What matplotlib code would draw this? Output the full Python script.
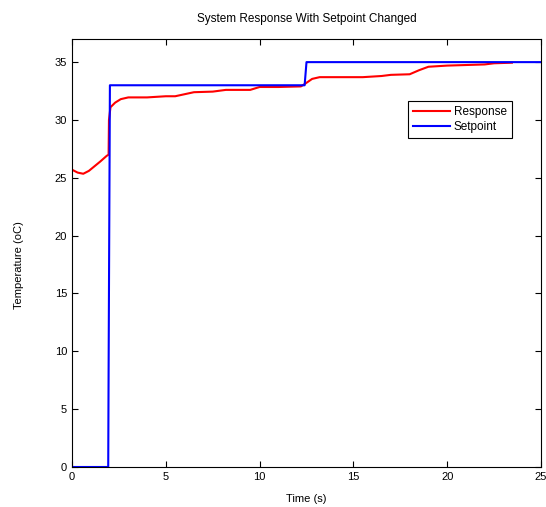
import numpy as np
import matplotlib.pyplot as plt

plt.rcParams['font.family'] = ['Liberation Sans', 'DejaVu Sans']

# response (measured temperature)
resp_t = [0, 0.3, 0.6, 0.9, 1.2, 1.5, 1.85, 1.95, 1.97, 2.05, 2.3, 2.6, 3.0,
          4.0, 5.0, 5.5, 6.5, 7.5, 8.2, 9.5, 10.0, 11.0, 12.2, 12.4, 12.8,
          13.2, 14.0, 15.5, 16.5, 17.0, 18.0, 18.5, 19.0, 20.0, 21.0, 22.0,
          22.5, 23.45]
resp_y = [25.7, 25.45, 25.35, 25.6, 26.0, 26.4, 26.9, 27.0, 30.0, 31.1,
          31.5, 31.8, 31.95, 31.95, 32.05, 32.05, 32.4, 32.45, 32.6, 32.6,
          32.85, 32.85, 32.9, 33.1, 33.55, 33.7, 33.7, 33.7, 33.8, 33.9,
          33.95, 34.3, 34.6, 34.7, 34.75, 34.8, 34.9, 34.95]

# setpoint
sp_t = [0, 1.93, 1.95, 2.02, 12.4, 12.5, 25]
sp_y = [0, 0, 8.2, 33, 33, 35, 35]

fig = plt.figure(figsize=(5.46, 5.07), dpi=100)
ax = fig.add_axes([0.1319, 0.0789, 0.8589, 0.8442])

ax.plot(resp_t, resp_y, color='#ff0000', lw=1.5, label='Response')
ax.plot(sp_t, sp_y, color='#0000ff', lw=1.5, label='Setpoint')

ax.set_xlim(0, 25)
ax.set_ylim(0, 37)
ax.set_xticks(np.arange(0, 26, 5))
ax.set_yticks(np.arange(0, 36, 5))
ax.tick_params(direction='in', top=True, right=True, labelsize=8, length=4)
for s in ax.spines.values():
    s.set_linewidth(0.8)

ax.set_title('System Response With Setpoint Changed', fontsize=8.5, pad=12)
ax.set_xlabel('Time (s)', fontsize=8, labelpad=9)
ax.set_ylabel('Temperature (oC)', fontsize=8)
ax.yaxis.set_label_coords(-0.103, 0.472)

leg = ax.legend(loc='upper left', bbox_to_anchor=(0.716, 0.855), fontsize=8.5,
                fancybox=False, framealpha=1, edgecolor='black',
                handlelength=3.2, borderpad=0.4, labelspacing=0.3,
                handletextpad=0.3, borderaxespad=0)
leg.get_frame().set_linewidth(0.8)

fig.savefig('out.png', dpi=100)
